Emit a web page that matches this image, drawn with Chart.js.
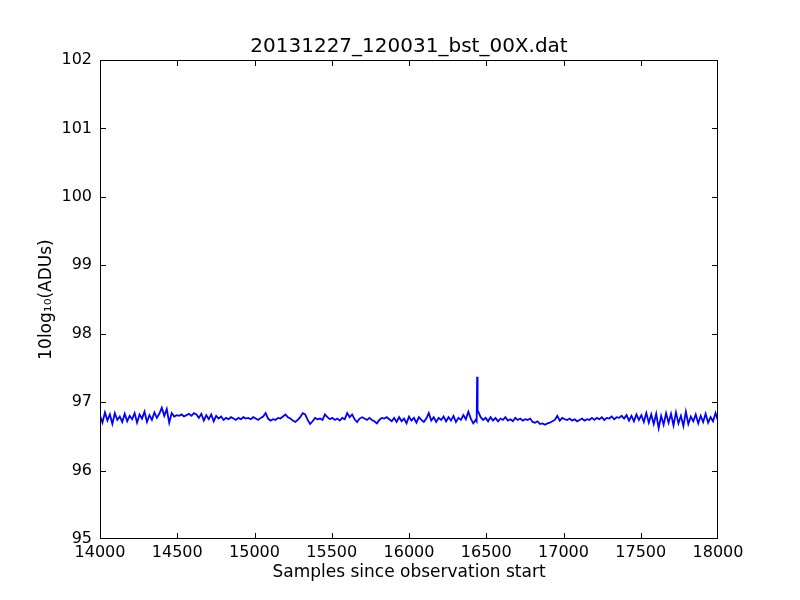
<!DOCTYPE html>
<html>
<head>
<meta charset="utf-8">
<script src="https://cdn.jsdelivr.net/npm/chart.js@4.4.0/dist/chart.umd.min.js"></script>
<style>
  html, body { margin: 0; padding: 0; background: #fff; }
  #wrap { width: 800px; height: 600px; }
</style>
</head>
<body>
<div id="wrap"><canvas id="chart" width="800" height="600"></canvas></div>
<script>
// samples since observation start, every 16 samples
const startSample = 14000;
const sampleStep = 16;
const power = [
  96.80, 96.70, 96.85, 96.73, 96.82, 96.68, 96.84, 96.74, 96.79, 96.71,
  96.83, 96.72, 96.80, 96.75, 96.84, 96.70, 96.82, 96.76, 96.86, 96.71,
  96.81, 96.74, 96.85, 96.77, 96.83, 96.92, 96.80, 96.90, 96.70, 96.84,
  96.79, 96.81, 96.80, 96.82, 96.79, 96.81, 96.83, 96.80, 96.84, 96.82,
  96.77, 96.83, 96.73, 96.81, 96.75, 96.82, 96.72, 96.80, 96.76, 96.79,
  96.74, 96.77, 96.75, 96.78, 96.76, 96.74, 96.77, 96.75, 96.78, 96.76,
  96.77, 96.75, 96.78, 96.76, 96.74, 96.77, 96.79, 96.84, 96.76, 96.73,
  96.75, 96.74, 96.77, 96.76, 96.79, 96.82, 96.78, 96.76, 96.73, 96.71,
  96.74, 96.78, 96.84, 96.82, 96.74, 96.68, 96.72, 96.77, 96.75, 96.76,
  96.74, 96.82, 96.78, 96.75, 96.77, 96.74, 96.76, 96.73, 96.77, 96.75,
  96.84, 96.78, 96.82, 96.75, 96.71, 96.76, 96.78, 96.76, 96.74, 96.77,
  96.74, 96.72, 96.69, 96.74, 96.77, 96.76, 96.78, 96.75, 96.72, 96.77,
  96.71, 96.78, 96.72, 96.76, 96.69, 96.79, 96.73, 96.77, 96.70, 96.78,
  96.74, 96.71, 96.76, 96.84, 96.73, 96.78, 96.71, 96.77, 96.74, 96.79,
  96.72, 96.78, 96.73, 96.80, 96.71, 96.77, 96.74, 96.81, 96.75, 96.86,
  96.76, 96.69, 96.74, 96.86, 96.78, 96.74, 96.77, 96.72, 96.78, 96.73,
  96.77, 96.72, 96.76, 96.74, 96.78, 96.73, 96.75, 96.72, 96.77, 96.74,
  96.76, 96.73, 96.75, 96.74, 96.76, 96.71, 96.70, 96.72, 96.68, 96.69,
  96.67, 96.69, 96.70, 96.72, 96.74, 96.80, 96.73, 96.77, 96.75, 96.74,
  96.76, 96.73, 96.75, 96.72, 96.74, 96.76, 96.73, 96.75, 96.74, 96.77,
  96.74, 96.77, 96.75, 96.78, 96.74, 96.77, 96.76, 96.79, 96.75, 96.78,
  96.77, 96.80, 96.76, 96.81, 96.73, 96.80, 96.72, 96.82, 96.74, 96.81,
  96.71, 96.84, 96.70, 96.82, 96.68, 96.83, 96.62, 96.80, 96.67, 96.84,
  96.70, 96.83, 96.66, 96.85, 96.69, 96.80, 96.65, 96.86, 96.68, 96.79,
  96.72, 96.82, 96.69, 96.80, 96.71, 96.83, 96.70, 96.78, 96.72, 96.84,
  96.73
];
// the narrow spike near sample 16441
const spikeSamples = [16438, 16441, 16444];
const spikePower = [96.72, 97.37, 96.86];

const xTicks = [14000, 14500, 15000, 15500, 16000, 16500, 17000, 17500, 18000];
const yTicks = [95, 96, 97, 98, 99, 100, 101, 102];
const titleText = '20131227_120031_bst_00X.dat';

const points = power.map((v, i) => ({ x: startSample + i * sampleStep, y: v }));
spikeSamples.forEach((s, i) => points.push({ x: s, y: spikePower[i] }));
points.sort((a, b) => a.x - b.x);

const font = 'DejaVu Sans';

// matplotlib-style frame with inward ticks on all four sides, title over the axes
const frame = {
  id: 'frame',
  afterDraw(chart) {
    const { ctx, chartArea: a, scales } = chart;
    const clamp = (p, lo, hi) => Math.min(Math.max(p, lo), hi);
    ctx.save();
    ctx.strokeStyle = '#000';
    ctx.lineWidth = 1;
    ctx.strokeRect(a.left + 0.5, a.top + 0.5, a.right - a.left - 1, a.bottom - a.top - 1);
    const len = 6;
    ctx.beginPath();
    xTicks.forEach(v => {
      const p = clamp(Math.round(scales.x.getPixelForValue(v)) + 0.5, a.left + 0.5, a.right - 0.5);
      ctx.moveTo(p, a.bottom); ctx.lineTo(p, a.bottom - len);
      ctx.moveTo(p, a.top); ctx.lineTo(p, a.top + len);
    });
    yTicks.forEach(v => {
      const p = clamp(Math.round(scales.y.getPixelForValue(v)) + 0.5, a.top + 0.5, a.bottom - 0.5);
      ctx.moveTo(a.left, p); ctx.lineTo(a.left + len, p);
      ctx.moveTo(a.right, p); ctx.lineTo(a.right - len, p);
    });
    ctx.stroke();
    ctx.fillStyle = '#000';
    ctx.font = '20px "' + font + '"';
    ctx.textAlign = 'center';
    ctx.textBaseline = 'middle';
    ctx.fillText(titleText, (a.left + a.right) / 2, a.top - 13);
    ctx.restore();
  }
};

new Chart(document.getElementById('chart').getContext('2d'), {
  type: 'line',
  data: {
    datasets: [{
      data: points,
      borderColor: '#0000ff',
      borderWidth: 1.8,
      pointRadius: 0,
      tension: 0,
      fill: false
    }]
  },
  options: {
    responsive: false,
    animation: false,
    layout: { padding: { left: 36, right: 82, top: 60, bottom: 17 } },
    plugins: {
      legend: { display: false },
      tooltip: { enabled: false },
      title: { display: false }
    },
    scales: {
      x: {
        type: 'linear',
        min: 14000,
        max: 18000,
        afterBuildTicks: s => { s.ticks = xTicks.map(v => ({ value: v })); },
        afterFit: s => { s.height = 44; },
        grid: { display: false, drawTicks: false },
        border: { display: false },
        ticks: {
          color: '#000',
          font: { family: font, size: 16 },
          padding: 4,
          maxRotation: 0,
          callback: v => String(v)
        },
        title: {
          display: true,
          text: 'Samples since observation start',
          color: '#000',
          font: { family: font, size: 17 },
          padding: { top: 1, bottom: 0 }
        }
      },
      y: {
        min: 95,
        max: 102,
        afterBuildTicks: s => { s.ticks = yTicks.map(v => ({ value: v })); },
        afterFit: s => { s.width = 64; },
        grid: { display: false, drawTicks: false },
        border: { display: false },
        ticks: {
          color: '#000',
          font: { family: font, size: 16 },
          padding: 8,
          callback: v => String(v)
        },
        title: {
          display: true,
          text: '10log\u2081\u2080(ADUs)',
          color: '#000',
          font: { family: font, size: 17 },
          padding: { top: 0, bottom: 0 }
        }
      }
    }
  },
  plugins: [frame]
});
</script>
</body>
</html>
